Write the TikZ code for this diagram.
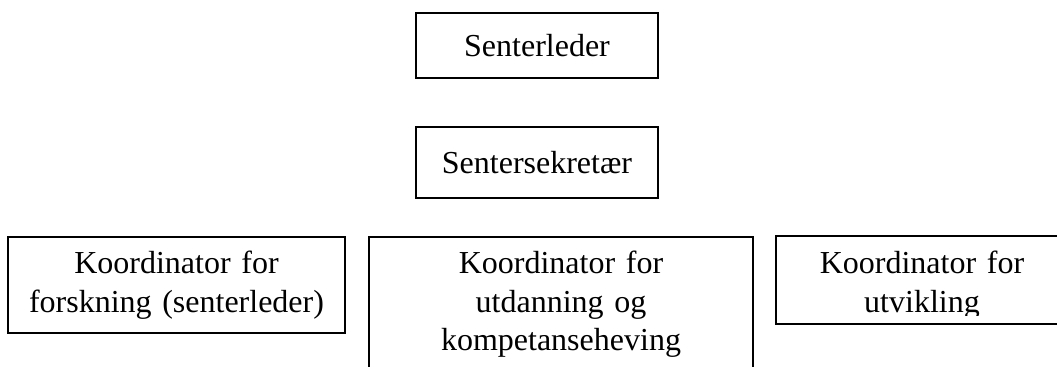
\documentclass[tikz,border=0pt]{standalone}
\usepackage{fontspec}
\setmainfont{Liberation Serif}
\begin{document}
\begin{tikzpicture}
    [x=0.75pt,y=-0.75pt,
     box/.style={draw=black,line width=1.3pt,inner sep=0pt,align=center,
       font=\fontsize{24}{28.9}\selectfont}]
    \useasboundingbox (0,0) rectangle (1057,367);
    \clip (0,0) rectangle (1057,367);
    \node [box,text width=181.5pt,minimum height=48.75pt] (lead) at (537,45.5) {Senterleder};
    \node [box,text width=181.5pt,minimum height=53.25pt] (sekr) at (537,162.5) {Sentersekretær};
    \node [box,text width=252.75pt,minimum height=72pt] (forsk) at (176.5,285)
      {Koordinator for\\forskning (senterleder)};
    \node [box,text width=288pt,minimum height=101.25pt] (utd) at (561,304.5)
      {Koordinator for\\utdanning og\\kompetanseheving};
    \begin{scope}
      \clip (777,237) rectangle (1057,315);
      \node [box,draw=none,text width=217.5pt,minimum height=72pt] (utv) at (922,285)
        {Koordinator for\\utvikling};
    \end{scope}
    \draw [line width=1.3pt] (utv.north west) rectangle ([yshift=-66pt]utv.north east);
  \end{tikzpicture}
\end{document}
